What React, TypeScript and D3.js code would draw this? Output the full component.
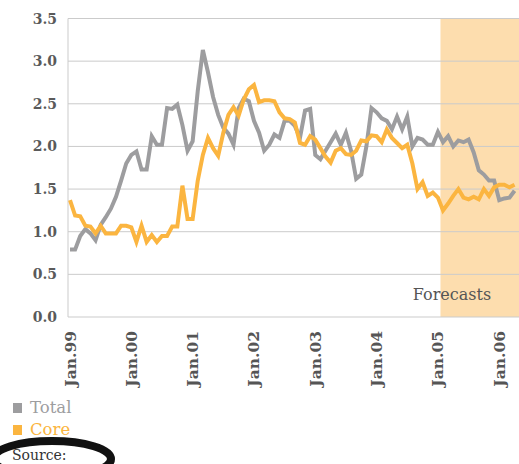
import * as d3 from "d3";

const months = d3.range(88);
const tickLabels = ["Jan.99", "Jan.00", "Jan.01", "Jan.02", "Jan.03", "Jan.04", "Jan.05", "Jan.06"];
const tickIdx = [0, 12, 24, 36, 48, 60, 72, 84];
const yTicks = [0, 0.5, 1, 1.5, 2, 2.5, 3, 3.5];
const forecastStart = 72.5;

const total = [
  0.79, 0.79, 0.95, 1.03, 0.98, 0.9, 1.08, 1.17, 1.27, 1.41, 1.6, 1.8,
  1.9, 1.94, 1.73, 1.73, 2.12, 2.02, 2.02, 2.45, 2.44, 2.49, 2.25, 1.95,
  2.06, 2.65, 3.13, 2.87, 2.58, 2.37, 2.22, 2.15, 2.02, 2.45, 2.56, 2.53,
  2.3, 2.16, 1.95, 2.02, 2.14, 2.1, 2.3, 2.3, 2.24, 2.1, 2.42, 2.44,
  1.9, 1.85, 1.95, 2.05, 2.15, 2.02, 2.16, 1.95, 1.62, 1.67, 2.0, 2.45,
  2.4, 2.33, 2.3, 2.2, 2.35, 2.2, 2.35, 2.0, 2.1, 2.08, 2.02, 2.02,
  2.17, 2.05, 2.12, 2.0, 2.07, 2.05, 2.08, 1.93, 1.72, 1.67, 1.6, 1.6,
  1.37, 1.39, 1.4, 1.48,
];

const core = [
  1.37, 1.19, 1.18, 1.07, 1.06, 0.98, 1.07, 0.98, 0.98, 0.98, 1.07, 1.07,
  1.05, 0.88, 1.07, 0.88, 0.96, 0.88, 0.95, 0.95, 1.06, 1.06, 1.54, 1.15,
  1.15, 1.6, 1.9, 2.1, 1.98, 1.89, 2.16, 2.37, 2.46, 2.36, 2.55, 2.67,
  2.72, 2.52, 2.54, 2.54, 2.53, 2.4, 2.33, 2.32, 2.28, 2.04, 2.02, 2.12,
  2.08, 1.98, 1.88, 1.81, 1.95, 1.98, 1.91, 1.9, 1.95, 2.07, 2.06, 2.13,
  2.12, 2.05, 2.2, 2.1, 2.04, 1.98, 2.02, 1.8, 1.5, 1.58, 1.42, 1.46,
  1.4, 1.25, 1.33, 1.42, 1.5, 1.4, 1.38, 1.41, 1.38, 1.5, 1.42, 1.52,
  1.55, 1.55, 1.52, 1.55,
];

const W = 519;
const H = 464;
const left = 68;
const font = "'DejaVu Serif', serif";

export default function App() {
  const x = d3.scaleLinear().domain([0, 87]).range([70, 70 + 5.11 * 87]);
  const y = d3.scaleLinear().domain([0, 3.5]).range([317, 18.5]);

  const line = d3
    .line<number>()
    .x((_, i) => x(months[i]))
    .y((d) => y(d));

  return (
    <svg
      width={W}
      height={H}
      style={{ position: "absolute", left: 0, top: 0, background: "#fff" }}
    >
      {/* forecast band */}
      <rect
        x={x(forecastStart)}
        y={y(3.5)}
        width={W - x(forecastStart)}
        height={y(0) - y(3.5)}
        fill="#FDDDAE"
      />
      {/* grid */}
      {yTicks.map((t) => (
        <line key={t} x1={left} x2={W} y1={y(t)} y2={y(t)} stroke="#cbcbcb" strokeWidth={1} />
      ))}
      <line x1={left} x2={left} y1={y(3.5)} y2={y(0)} stroke="#cbcbcb" strokeWidth={1} />
      {yTicks.map((t) => (
        <text
          key={t}
          x={57}
          y={y(t) + 5}
          textAnchor="end"
          fontFamily={font}
          fontWeight="bold"
          fontSize={14}
          fill="#5a5a5a"
        >
          {t.toFixed(1)}
        </text>
      ))}
      {tickIdx.map((m, i) => (
        <text
          key={m}
          transform={`translate(${x(m) + 5.5},331) rotate(-90)`}
          textAnchor="end"
          fontFamily={font}
          fontWeight="bold"
          fontSize={15.5}
          fill="#555"
        >
          {tickLabels[i]}
        </text>
      ))}
      <text x={452} y={300} textAnchor="middle" fontFamily={font} fontSize={16} fill="#555">
        Forecasts
      </text>
      <path d={line(total) ?? ""} fill="none" stroke="#9D9D9F" strokeWidth={4} />
      <path d={line(core) ?? ""} fill="none" stroke="#FBB540" strokeWidth={4} />

      {/* legend */}
      <rect x={13} y={403} width={9} height={10} fill="#9D9D9F" />
      <text x={30} y={413} fontFamily={font} fontSize={16.5} fill="#9D9D9F">
        Total
      </text>
      <rect x={13} y={425} width={9} height={10} fill="#FBB540" />
      <text x={30} y={435} fontFamily={font} fontSize={16.5} fill="#FBB540">
        Core
      </text>
      <text x={12} y={460} fontFamily={font} fontSize={14} fill="#333">
        Source:
      </text>
      <ellipse cx={52} cy={459} rx={59} ry={18} fill="none" stroke="#111" strokeWidth={8} />
    </svg>
  );
}
